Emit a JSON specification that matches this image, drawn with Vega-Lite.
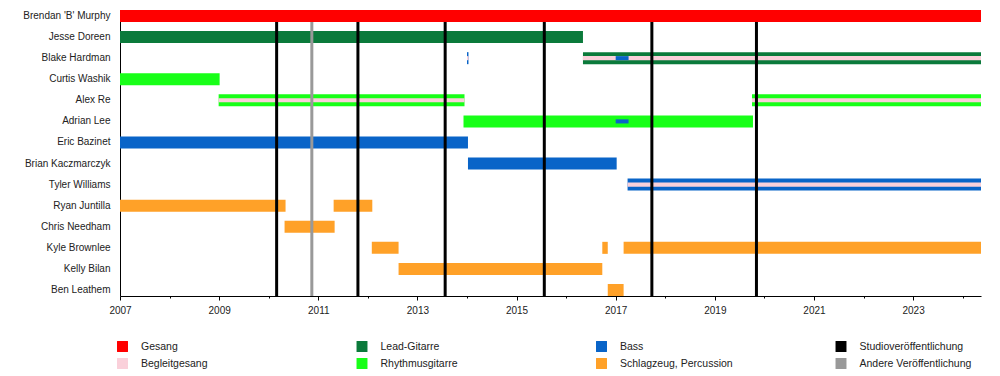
{
  "$schema": "https://vega.github.io/schema/vega-lite/v6.json",
  "width": 861,
  "height": 286,
  "autosize": {"type": "none"},
  "padding": {"left": 120, "top": 10, "right": 19, "bottom": 80},
  "config": {
    "view": {"stroke": null},
    "font": "Liberation Sans",
    "axis": {"domainColor": "#000000", "domainWidth": 1, "tickColor": "#000000", "labelColor": "#222222", "labelFontSize": 10, "labelFont": "Liberation Sans", "grid": false, "title": null},
    "legend": {"orient": "none", "legendX": -3, "legendY": 331, "columns": 4, "direction": "horizontal", "symbolType": "square", "symbolSize": 120, "symbolStrokeWidth": 0, "labelFontSize": 10.5, "labelFont": "Liberation Sans", "labelColor": "#222222", "columnPadding": 102.5, "rowPadding": 6, "gridAlign": "all", "labelOffset": 13}
  },
  "datasets": {
    "bars": [
      {"name": "Brendan 'B' Murphy", "start": 2007, "end": 2024.37, "role": "Gesang", "kind": "main"},
      {"name": "Jesse Doreen", "start": 2007, "end": 2016.34, "role": "Lead-Gitarre", "kind": "main"},
      {"name": "Blake Hardman", "start": 2014.0, "end": 2014.03, "role": "Bass", "kind": "main"},
      {"name": "Blake Hardman", "start": 2016.34, "end": 2024.37, "role": "Lead-Gitarre", "kind": "main"},
      {"name": "Curtis Washik", "start": 2007, "end": 2009.01, "role": "Rhythmusgitarre", "kind": "main"},
      {"name": "Alex Re", "start": 2008.99, "end": 2013.95, "role": "Rhythmusgitarre", "kind": "main"},
      {"name": "Alex Re", "start": 2019.75, "end": 2024.37, "role": "Rhythmusgitarre", "kind": "main"},
      {"name": "Adrian Lee", "start": 2013.93, "end": 2019.77, "role": "Rhythmusgitarre", "kind": "main"},
      {"name": "Eric Bazinet", "start": 2007, "end": 2014.02, "role": "Bass", "kind": "main"},
      {"name": "Brian Kaczmarczyk", "start": 2014.02, "end": 2017.02, "role": "Bass", "kind": "main"},
      {"name": "Tyler Williams", "start": 2017.24, "end": 2024.37, "role": "Bass", "kind": "main"},
      {"name": "Ryan Juntilla", "start": 2007, "end": 2010.34, "role": "Schlagzeug, Percussion", "kind": "main"},
      {"name": "Ryan Juntilla", "start": 2011.31, "end": 2012.09, "role": "Schlagzeug, Percussion", "kind": "main"},
      {"name": "Chris Needham", "start": 2010.32, "end": 2011.33, "role": "Schlagzeug, Percussion", "kind": "main"},
      {"name": "Kyle Brownlee", "start": 2012.08, "end": 2012.62, "role": "Schlagzeug, Percussion", "kind": "main"},
      {"name": "Kyle Brownlee", "start": 2016.73, "end": 2016.84, "role": "Schlagzeug, Percussion", "kind": "main"},
      {"name": "Kyle Brownlee", "start": 2017.16, "end": 2024.37, "role": "Schlagzeug, Percussion", "kind": "main"},
      {"name": "Kelly Bilan", "start": 2012.62, "end": 2016.73, "role": "Schlagzeug, Percussion", "kind": "main"},
      {"name": "Ben Leathem", "start": 2016.84, "end": 2017.16, "role": "Schlagzeug, Percussion", "kind": "main"},
      {"name": "Blake Hardman", "start": 2014.0, "end": 2014.03, "role": "Begleitgesang", "kind": "stripe"},
      {"name": "Blake Hardman", "start": 2016.34, "end": 2024.37, "role": "Begleitgesang", "kind": "stripe"},
      {"name": "Blake Hardman", "start": 2017.0, "end": 2017.26, "role": "Bass", "kind": "stripe"},
      {"name": "Alex Re", "start": 2008.99, "end": 2013.95, "role": "Begleitgesang", "kind": "stripe"},
      {"name": "Alex Re", "start": 2019.75, "end": 2024.37, "role": "Begleitgesang", "kind": "stripe"},
      {"name": "Adrian Lee", "start": 2017.0, "end": 2017.26, "role": "Bass", "kind": "stripe"},
      {"name": "Tyler Williams", "start": 2017.24, "end": 2024.37, "role": "Begleitgesang", "kind": "stripe"}
    ],
    "releases": [
      {"date": 2010.16, "role": "Studioveröffentlichung"},
      {"date": 2010.87, "role": "Andere Veröffentlichung"},
      {"date": 2011.80, "role": "Studioveröffentlichung"},
      {"date": 2013.56, "role": "Studioveröffentlichung"},
      {"date": 2015.56, "role": "Studioveröffentlichung"},
      {"date": 2017.73, "role": "Studioveröffentlichung"},
      {"date": 2019.84, "role": "Studioveröffentlichung"}
    ]
  },
  "encoding": {
    "color": {
      "field": "role",
      "type": "nominal",
      "title": null,
      "scale": {
        "domain": ["Gesang", "Lead-Gitarre", "Bass", "Studioveröffentlichung", "Begleitgesang", "Rhythmusgitarre", "Schlagzeug, Percussion", "Andere Veröffentlichung"],
        "range": ["#ff0000", "#0b7a3b", "#0964c8", "#000000", "#fad0da", "#18ff18", "#ffa128", "#999999"]
      }
    }
  },
  "layer": [
    {
      "data": {"name": "bars"},
      "transform": [{"filter": "datum.kind == 'main' && datum.name != \"Brendan 'B' Murphy\""}],
      "mark": {"type": "bar", "cornerRadius": 0},
      "encoding": {
        "y": {
          "field": "name", "type": "nominal", "title": null,
          "scale": {"domain": ["Brendan 'B' Murphy", "Jesse Doreen", "Blake Hardman", "Curtis Washik", "Alex Re", "Adrian Lee", "Eric Bazinet", "Brian Kaczmarczyk", "Tyler Williams", "Ryan Juntilla", "Chris Needham", "Kyle Brownlee", "Kelly Bilan", "Ben Leathem"], "paddingInner": 0.43, "paddingOuter": 0},
          "axis": {"ticks": false, "labelPadding": 10, "labelFontSize": 10}
        },
        "x": {
          "field": "start", "type": "quantitative", "title": null,
          "scale": {"domain": [2007, 2024.37], "nice": false, "zero": false},
          "axis": {"values": [2007, 2008, 2009, 2010, 2011, 2012, 2013, 2014, 2015, 2016, 2017, 2018, 2019, 2020, 2021, 2022, 2023, 2024], "format": "d", "labelExpr": "datum.value % 2 == 1 ? datum.label : ''", "tickSize": {"condition": {"test": "datum.value % 2 == 0", "value": 2}, "value": 4}, "labelPadding": 5, "labelFlush": false, "labelOverlap": false}
        },
        "x2": {"field": "end"}
      }
    },
    {
      "data": {"name": "bars"},
      "transform": [{"filter": "datum.kind == 'stripe'"}],
      "mark": {"type": "bar", "height": {"band": 0.34}},
      "encoding": {
        "y": {"field": "name", "type": "nominal"},
        "x": {"field": "start", "type": "quantitative"},
        "x2": {"field": "end"}
      }
    },
    {
      "data": {"name": "releases"},
      "mark": {"type": "rule", "strokeWidth": 3},
      "encoding": {
        "x": {"field": "date", "type": "quantitative"}
      }
    },
    {
      "data": {"name": "bars"},
      "transform": [{"filter": "datum.name == \"Brendan 'B' Murphy\""}],
      "mark": {"type": "bar"},
      "encoding": {
        "y": {"field": "name", "type": "nominal"},
        "x": {"field": "start", "type": "quantitative"},
        "x2": {"field": "end"}
      }
    }
  ]
}
